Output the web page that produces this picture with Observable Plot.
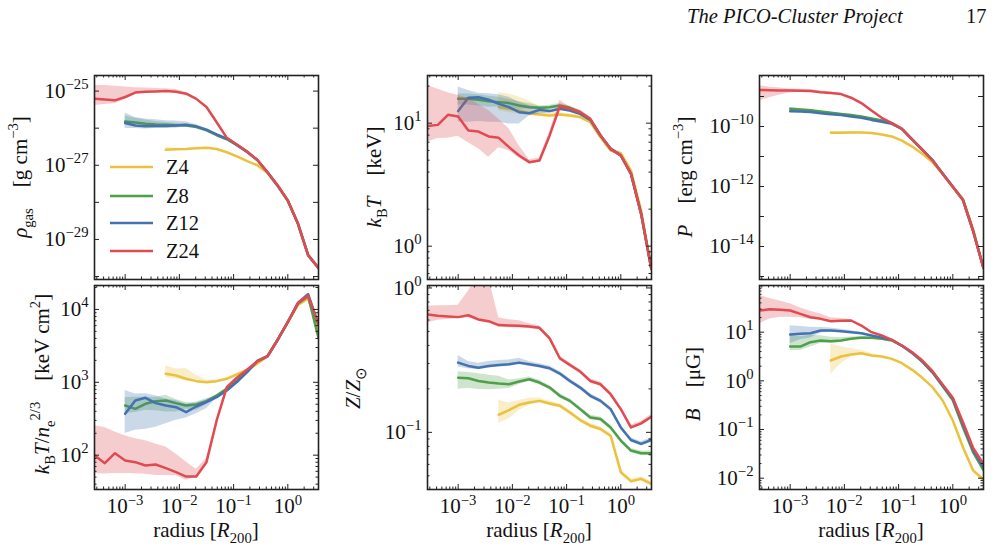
<!DOCTYPE html>
<html><head><meta charset="utf-8">
<script src="https://cdn.jsdelivr.net/npm/d3@7"></script>
<script src="https://cdn.jsdelivr.net/npm/@observablehq/plot@0.6"></script>
<style>
body{margin:0;background:#fff}
#wrap{position:relative;width:1003px;height:548px;overflow:hidden;background:#fff}
#wrap svg{position:absolute}
</style>
</head><body><div id="wrap"></div>
<script>
const N = null;
// radial bins [R200]
const radius = [2.74e-4,4.22e-4,6.49e-4,1.0e-3,1.54e-3,2.37e-3,3.65e-3,5.62e-3,8.66e-3,1.33e-2,2.05e-2,3.16e-2,4.87e-2,7.50e-2,0.115,0.178,0.274,0.422,0.649,1.0,1.54,2.37,3.65];
const seriesNames = ["Z4","Z8","Z12","Z24"];
const colors = ["#EBC13E","#4E9F4A","#4472AE","#E04A50"];

// log10 gas density [g cm^-3], band offsets in dex
const rho_Z24 = [-25.21,-25.23,-25.25,-25.16,-25.04,-25.02,-25.01,-25.00,-25.02,-25.07,-25.21,-25.43,-25.84,-26.26,-26.44,-26.63,-26.86,-27.19,-27.54,-27.95,-28.58,-29.43,-29.76];
const rho_Z12 = [N,N,N,-25.86,-25.93,-25.95,-25.94,-25.94,-25.93,-25.91,-25.95,-26.04,-26.17,-26.28,-26.45,-26.64,-26.86,-27.19,-27.55,-27.95,-28.58,-29.42,-29.76];
const rho_Z8 = [N,N,N,-25.82,-25.85,-25.88,-25.90,-25.91,-25.92,-25.93,-25.97,-26.06,-26.19,-26.30,-26.46,-26.64,-26.86,-27.19,-27.55,-27.96,-28.58,-29.43,-29.77];
const rho_Z4 = [N,N,N,N,N,N,N,-26.58,-26.57,-26.56,-26.54,-26.53,-26.56,-26.65,-26.76,-26.89,-27.00,-27.21,-27.56,-27.96,-28.56,-29.41,-29.78];
const rho_Z24_hi = [0.36,0.38,0.38,0.27,0.13,0.10,0.08,0.06,0.06,0.04,0.03,0.02];
const rho_Z24_lo = [0.18,0.13,0.09,0.07,0.04,0.03,0.02];
const rho_Z12_hi = [N,N,N,0.27,0.22,0.20,0.17,0.14,0.12,0.08,0.04,0.03];
const rho_Z12_lo = [N,N,N,0.15,0.08,0.07,0.07,0.07,0.07,0.05,0.03];
const rho_Z8_hi = [N,N,N,0.15,0.12,0.10,0.08,0.06,0.05,0.04,0.03];
const rho_Z8_lo = [N,N,N,0.10,0.06,0.05,0.04,0.03,0.03,0.03];
const rho_Z4_hi = [N,N,N,N,N,N,N,0.06,0.03];
const rho_Z4_lo = [N,N,N,N,N,N,N,0.03,0.02];

// log10 temperature [keV]
const kT_Z24 = [0.976,0.986,1.068,1.054,0.940,0.932,0.892,0.881,0.805,0.737,0.683,0.696,0.900,1.136,1.117,1.089,1.035,0.900,0.791,0.737,0.588,0.263,-0.184];
const kT_Z12 = [N,N,N,1.098,1.206,1.211,1.190,1.157,1.130,1.089,1.081,1.108,1.098,1.117,1.103,1.076,1.027,0.900,0.791,0.737,0.588,0.263,-0.184];
const kT_Z8 = [N,N,N,1.198,1.198,1.190,1.179,1.171,1.163,1.144,1.130,1.125,1.130,1.144,1.125,1.089,1.030,0.900,0.790,0.737,0.588,0.263,-0.184];
const kT_Z4 = [N,N,N,N,N,N,N,1.130,1.117,1.103,1.081,1.070,1.062,1.070,1.062,1.049,1.008,0.886,0.778,0.756,0.615,0.290,-0.180];
const kT_Z24_hi = [0.33,0.29,0.18,0.17,0.26,0.22,0.21,0.15,0.15,0.08,0.02,0.02,0.03,0.05];
const kT_Z24_lo = [0.13,0.11,0.19,0.16,0.10,0.14,0.17,0.08,0.03,0.02];
const kT_Z12_hi = [N,N,N,0.195,0.06,0.033,0.049,0.073,0.081,0.081,0.062,0.022];
const kT_Z12_lo = [N,N,N,0.089,0.198,0.198,0.182,0.149,0.136,0.095,0.02,0.033];
const kT_Z8_hi = [N,N,N,0.04,0.04,0.04,0.04,0.04,0.03,0.03,0.03];
const kT_Z8_lo = [N,N,N,0.05,0.05,0.05,0.05,0.04,0.04,0.03];
const kT_Z4_hi = [N,N,N,N,N,N,N,0.12,0.12,0.11,0.10,0.07,0.03];
const kT_Z4_lo = [N,N,N,N,N,N,N,0.03,0.03,0.03,0.02];

// log10 pressure [erg cm^-3]
const P_Z24 = [-8.78,-8.79,-8.80,-8.80,-8.81,-8.82,-8.86,-8.88,-8.92,-9.04,-9.22,-9.47,-9.71,-9.89,-10.08,-10.44,-10.78,-11.13,-11.58,-12.02,-12.45,-13.50,-14.70];
const P_Z12 = [N,N,N,-9.49,-9.50,-9.52,-9.56,-9.59,-9.62,-9.67,-9.71,-9.78,-9.84,-9.91,-10.08,-10.43,-10.77,-11.12,-11.57,-12.01,-12.45,-13.48,-14.70];
const P_Z8 = [N,N,N,-9.41,-9.43,-9.46,-9.50,-9.54,-9.58,-9.62,-9.67,-9.73,-9.80,-9.89,-10.08,-10.43,-10.77,-11.12,-11.57,-12.01,-12.45,-13.48,-14.70];
const P_Z4 = [N,N,N,N,N,N,N,-10.21,-10.21,-10.20,-10.20,-10.22,-10.27,-10.33,-10.47,-10.67,-10.91,-11.19,-11.58,-12.00,-12.42,-13.42,-14.72];
const P_Z24_hi = [0.14,0.10,0.08,0.05,0.05,0.05,0.04,0.03];
const P_Z24_lo = [0.36,0.25,0.15,0.08,0.05,0.04,0.03];
const P_Z12_hi = [N,N,N,0.05,0.04,0.03];
const P_Z12_lo = [N,N,N,0.03,0.03];
const P_Z8_hi = [N,N,N,0.04,0.03,0.03];
const P_Z8_lo = [N,N,N,0.03,0.03];
const P_Z4_hi = [N,N,N,N,N,N,N,0.05,0.04,0.03];
const P_Z4_lo = [N,N,N,N,N,N,N,0.04,0.03];

// log10 entropy [keV cm^2]
const K_Z24 = [1.995,1.890,2.027,1.927,1.904,1.858,1.872,1.822,1.767,1.707,1.707,1.904,2.476,2.934,3.062,3.172,3.286,3.355,3.584,3.826,4.087,4.192,3.800];
const K_Z12 = [N,N,N,2.567,2.751,2.787,2.714,2.682,2.659,2.590,2.668,2.728,2.796,2.888,3.002,3.140,3.291,3.355,3.580,3.826,4.090,4.210,3.800];
const K_Z8 = [N,N,N,2.682,2.636,2.705,2.741,2.751,2.714,2.682,2.696,2.741,2.819,2.911,3.025,3.153,3.291,3.355,3.584,3.826,4.080,4.180,3.620];
const K_Z4 = [N,N,N,N,N,N,N,3.117,3.094,3.048,3.016,3.002,3.016,3.048,3.108,3.172,3.254,3.360,3.584,3.830,4.060,4.150,3.750];
const K_Z24_hi = [0.41,0.49,0.29,0.34,0.32,0.34,0.28,0.29,0.25,0.20,0.10,0.05];
const K_Z24_lo = [0.25,0.15,0.28,0.18,0.16,0.12,0.15,0.10,0.05,0.05];
const K_Z12_hi = [N,N,N,0.32,0.09,0.055,0.10,0.09,0.09,0.11,0.06,0.046];
const K_Z12_lo = [N,N,N,0.27,0.41,0.43,0.33,0.25,0.18,0.08,0.10,0.09];
const K_Z8_hi = [N,N,N,0.11,0.16,0.09,0.05,0.07,0.05,0.04];
const K_Z8_lo = [N,N,N,0.11,0.05,0.09,0.13,0.16,0.12,0.05,0.08,0.05];
const K_Z4_hi = [N,N,N,N,N,N,N,0.11,0.09,0.14,0.08,0.03];
const K_Z4_lo = [N,N,N,N,N,N,N,0.05,0.05,0.03];

// log10 metallicity [Z_sun]
const Z_Z24 = [-0.184,-0.193,-0.198,-0.202,-0.189,-0.218,-0.230,-0.257,-0.260,-0.262,-0.267,-0.276,-0.349,-0.487,-0.533,-0.579,-0.644,-0.667,-0.736,-0.839,-0.966,-0.938,-0.892];
const Z_Z12 = [N,N,N,-0.517,-0.540,-0.552,-0.540,-0.533,-0.529,-0.517,-0.529,-0.540,-0.556,-0.593,-0.644,-0.690,-0.747,-0.782,-0.839,-0.966,-1.053,-1.080,-1.053];
const Z_Z8 = [N,N,N,-0.621,-0.625,-0.644,-0.655,-0.662,-0.667,-0.648,-0.632,-0.655,-0.690,-0.747,-0.782,-0.839,-0.897,-0.908,-0.966,-1.057,-1.126,-1.145,-1.145];
const Z_Z4 = [N,N,N,N,N,N,N,-0.878,-0.846,-0.809,-0.793,-0.782,-0.800,-0.816,-0.862,-0.915,-0.954,-0.977,-1.023,-1.276,-1.338,-1.322,-1.356];
const Z_Z24_hi = [0.057,0.07,0.075,0.083,0.166,0.31,0.30,0.05,0.04,0.035,0.02];
const Z_Z24_lo = [0.057,0.03,0.02,0.01];
const Z_Z12_hi = [N,N,N,0.05,0.03,0.03,0.03,0.03,0.03,0.03,0.02];
const Z_Z12_lo = [N,N,N,0.03,0.02];
const Z_Z8_hi = [N,N,N,0.04,0.04,0.05,0.05,0.05,0.03,0.02];
const Z_Z8_lo = [N,N,N,0.08,0.07,0.06,0.05,0.04,0.03,0.02];
const Z_Z4_hi = [N,N,N,N,N,N,N,0.10,0.05,0.03,0.03,0.02];
const Z_Z4_lo = [N,N,N,N,N,N,N,0.06,0.06,0.04,0.02];

// log10 magnetic field [muG]
const B_Z24 = [1.445,1.473,1.459,1.445,1.377,1.308,1.274,1.226,1.233,1.240,1.137,1.000,0.932,0.842,0.726,0.589,0.418,0.199,-0.075,-0.349,-0.850,-1.380,-1.705];
const B_Z12 = [N,N,N,0.952,0.966,0.979,1.034,1.034,1.021,1.000,0.979,0.932,0.884,0.842,0.720,0.575,0.400,0.180,-0.095,-0.370,-0.900,-1.420,-1.774];
const B_Z8 = [N,N,N,0.705,0.705,0.795,0.829,0.815,0.829,0.863,0.884,0.884,0.863,0.829,0.726,0.570,0.390,0.170,-0.110,-0.400,-0.952,-1.470,-1.829];
const B_Z4 = [N,N,N,N,N,N,N,0.418,0.500,0.541,0.568,0.521,0.500,0.452,0.363,0.226,0.062,-0.130,-0.404,-0.815,-1.363,-1.842,-2.027];
const B_Z24_hi = [0.31,0.22,0.18,0.14,0.12,0.12,0.10,0.07,0.05];
const B_Z24_lo = [0.27,0.20,0.15,0.14,0.08,0.05];
const B_Z12_hi = [N,N,N,0.18,0.15,0.12,0.06,0.05,0.04,0.03];
const B_Z12_lo = [N,N,N,0.19,0.12,0.10,0.05,0.04,0.03];
const B_Z8_hi = [N,N,N,0.23,0.20,0.14,0.10,0.08,0.06,0.04,0.03];
const B_Z8_lo = [N,N,N,0.08,0.08,0.10,0.06,0.05,0.04];
const B_Z4_hi = [N,N,N,N,N,N,N,0.34,0.20,0.12,0.06,0.04];
const B_Z4_lo = [N,N,N,N,N,N,N,0.28,0.15,0.05,0.03];

const xTickLabels = [1e-3, 1e-2, 1e-1, 1];

// ---------------- layout ----------------
const FONT = "Liberation Serif";
const FS = 21;      // tick labels
const TS = 21;      // axis titles
const W = 224, H = 204;
const colX = [94, 427, 759], rowY = [75, 285];
const ML = 82, MR = 10, MT = 12, MB = 42;
const xDomain = [2.72e-4, 3.68];

const panels = [
  {col:0,row:0,domain:[10**-30.08,10**-24.58],labels:[1e-25,1e-27,1e-29],minor:false,
   s:[[rho_Z4,rho_Z4_hi,rho_Z4_lo],[rho_Z8,rho_Z8_hi,rho_Z8_lo],[rho_Z12,rho_Z12_hi,rho_Z12_lo],[rho_Z24,rho_Z24_hi,rho_Z24_lo]]},
  {col:1,row:0,domain:[0.536,24.4],labels:[1,10],minor:true,
   s:[[kT_Z4,kT_Z4_hi,kT_Z4_lo],[kT_Z8,kT_Z8_hi,kT_Z8_lo],[kT_Z12,kT_Z12_hi,kT_Z12_lo],[kT_Z24,kT_Z24_hi,kT_Z24_lo]]},
  {col:2,row:0,domain:[10**-15.1,10**-8.3],labels:[1e-10,1e-12,1e-14],minor:false,
   s:[[P_Z4,P_Z4_hi,P_Z4_lo],[P_Z8,P_Z8_hi,P_Z8_lo],[P_Z12,P_Z12_hi,P_Z12_lo],[P_Z24,P_Z24_hi,P_Z24_lo]]},
  {col:0,row:1,domain:[33.8,21300],labels:[1e2,1e3,1e4],minor:true,
   s:[[K_Z4,K_Z4_hi,K_Z4_lo],[K_Z8,K_Z8_hi,K_Z8_lo],[K_Z12,K_Z12_hi,K_Z12_lo],[K_Z24,K_Z24_hi,K_Z24_lo]]},
  {col:1,row:1,domain:[0.0402,1.04],labels:[0.1,1],minor:true,
   s:[[Z_Z4,Z_Z4_hi,Z_Z4_lo],[Z_Z8,Z_Z8_hi,Z_Z8_lo],[Z_Z12,Z_Z12_hi,Z_Z12_lo],[Z_Z24,Z_Z24_hi,Z_Z24_lo]]},
  {col:2,row:1,domain:[0.00586,91],labels:[0.01,0.1,1,10],minor:true,
   s:[[B_Z4,B_Z4_hi,B_Z4_lo],[B_Z8,B_Z8_hi,B_Z8_lo],[B_Z12,B_Z12_hi,B_Z12_lo],[B_Z24,B_Z24_hi,B_Z24_lo]]}
];

function logTicks([a, b]) {
  const major = [], minor = [];
  for (let k = Math.floor(Math.log10(a)) - 1; k <= Math.ceil(Math.log10(b)); k++) {
    for (let m = 1; m <= 9; m++) {
      const v = m * Math.pow(10, k);
      if (v >= a * 0.999 && v <= b * 1.001) (m === 1 ? major : minor).push(v);
    }
  }
  return {major, minor};
}

function rowsFor(vals, hi, lo) {
  return radius.map((r, i) => vals[i] == null ? null : {
    r, v: 10 ** vals[i],
    hi: 10 ** (vals[i] + (hi[i] ?? 0.015)),
    lo: 10 ** (vals[i] - (lo[i] ?? 0.015))
  }).filter(d => d);
}

const fmtPow = d => "10^" + Math.round(Math.log10(d));

function supify(svg) {
  d3.select(svg).selectAll('g[aria-label$="tick label"] text').each(function() {
    const s = this.textContent;
    const m = s.match(/^(\d+)\^(.+)$/);
    if (!m) return;
    const t = d3.select(this);
    t.selectAll("*").remove();
    t.text(null);
    t.append("tspan").text(m[1]);
    t.append("tspan").attr("dy", -0.42 * FS).attr("font-size", 0.7 * FS).text(m[2].replace("-", "\u2212"));
  });
}

const wrap = d3.select("#wrap");
const xt = logTicks(xDomain);

panels.forEach(p => {
  const yt = logTicks(p.domain);
  const marks = [];
  p.s.forEach(([vals, hi, lo], k) => {
    const rows = rowsFor(vals, hi, lo);
    marks.push(Plot.areaY(rows, {x: "r", y1: "lo", y2: "hi", fill: colors[k], fillOpacity: 0.28, clip: true}));
    marks.push(Plot.line(rows, {x: "r", y: "v", stroke: colors[k], strokeWidth: 2.5, clip: true}));
  });
  const tk = {stroke: "#222", strokeWidth: 1};
  marks.push(
    Plot.tickX(xt.major, {x: d => d, insetTop: H - 5, ...tk}),
    Plot.tickX(xt.major, {x: d => d, insetBottom: H - 5, ...tk}),
    Plot.tickX(xt.minor, {x: d => d, insetTop: H - 2.5, ...tk}),
    Plot.tickX(xt.minor, {x: d => d, insetBottom: H - 2.5, ...tk}),
    Plot.tickY(yt.major, {y: d => d, insetRight: W - 5, ...tk}),
    Plot.tickY(yt.major, {y: d => d, insetLeft: W - 5, ...tk}),
    Plot.frame({stroke: "#222", strokeWidth: 1.6}),
    Plot.axisY({ticks: p.labels, tickSize: 0, tickPadding: 6, tickFormat: fmtPow, label: null})
  );
  if (p.minor) marks.push(
    Plot.tickY(yt.minor, {y: d => d, insetRight: W - 2.5, ...tk}),
    Plot.tickY(yt.minor, {y: d => d, insetLeft: W - 2.5, ...tk})
  );
  if (p.row === 1) marks.push(Plot.axisX({ticks: xTickLabels, tickSize: 0, tickPadding: 9, tickFormat: fmtPow, label: null}));
  const chart = Plot.plot({
    width: W + ML + MR, height: H + MT + MB,
    marginLeft: ML, marginRight: MR, marginTop: MT, marginBottom: MB,
    x: {type: "log", domain: xDomain, ...(p.row === 0 ? {axis: null} : {})},
    y: {type: "log", domain: p.domain},
    style: {background: "none", fontFamily: FONT, fontSize: FS + "px", color: "#111", overflow: "visible"},
    marks
  });
  supify(chart);
  chart.style.left = (colX[p.col] - ML) + "px";
  chart.style.top = (rowY[p.row] - MT) + "px";
  wrap.node().appendChild(chart);
});

// ---------------- overlay text ----------------
const ov = wrap.append("svg").attr("width", 1003).attr("height", 548).style("left", "0px").style("top", "0px")
  .attr("font-family", FONT).attr("fill", "#111");

function rich(segs, {x, y, rotate = 0, anchor = "middle", size = TS, italic = false}) {
  const t = ov.append("text").attr("transform", `translate(${x},${y}) rotate(${rotate})`)
    .attr("text-anchor", anchor).attr("font-size", size);
  if (italic) t.attr("font-style", "italic");
  let shift = 0;
  for (const [s, k] of segs) {
    let off = 0, fs = size;
    if (k.includes("sub")) { off = 0.28 * size; fs = 0.7 * size; }
    if (k.includes("sup")) { off = -0.42 * size; fs = 0.7 * size; }
    const ts = t.append("tspan").attr("font-size", fs).text(s);
    if (off !== shift) ts.attr("dy", off - shift);
    shift = off;
    if (k.includes("it")) ts.attr("font-style", "italic");
  }
}

rich([["The PICO-Cluster Project", ""]], {x: 687, y: 23, anchor: "start", italic: true, size: 20.5});
rich([["17", ""]], {x: 966, y: 23, anchor: "start", size: 20.5});

rich([["ρ","it"],["gas","sub"],["\u2003[g cm",""],["−3","sup"],["]",""]], {x: 27, y: 177, rotate: -90});
rich([["k","it"],["B","sub"],["T","it"],["\u2003[keV]",""]], {x: 381, y: 177, rotate: -90});
rich([["P","it"],["\u2003[erg cm",""],["−3","sup"],["]",""]], {x: 692, y: 177, rotate: -90});
rich([["k","it"],["B","sub"],["T","it"],["/",""],["n","it"],["e","sub"],["2/3","sup"],["\u2003[keV cm",""],["2","sup"],["]",""]], {x: 49, y: 384, rotate: -90});
rich([["Z","it"],["/",""],["Z","it"],["⊙","sub"]], {x: 360, y: 388, rotate: -90});
rich([["B","it"],["\u2003[μG]",""]], {x: 700, y: 384, rotate: -90});
colX.forEach(cx => rich([["radius [",""],["R","it"],["200","sub"],["]",""]], {x: cx + W / 2, y: 537}));

// legend
const legY = [167, 196, 223, 251];
seriesNames.forEach((name, k) => {
  ov.append("line").attr("x1", 110).attr("x2", 153).attr("y1", legY[k]).attr("y2", legY[k])
    .attr("stroke", colors[k]).attr("stroke-width", 2.5);
  ov.append("text").attr("x", 166).attr("y", legY[k] + 7).attr("font-size", 20.5).text(name);
});
</script>
</body></html>
